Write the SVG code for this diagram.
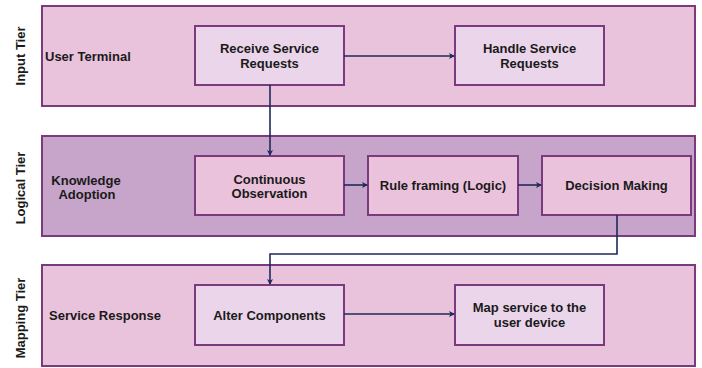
<svg xmlns="http://www.w3.org/2000/svg" width="702" height="368" viewBox="0 0 702 368">
<defs>
<marker id="ah" markerWidth="6" markerHeight="6" refX="5" refY="3" orient="auto" markerUnits="userSpaceOnUse">
<path d="M0,0 L6,3 L0,6 L1.5,3 Z" fill="#1e2a5a"/>
</marker>
<style>
.tier{stroke:#7b3a7e;stroke-width:2}
.t1{fill:#e9c2dc}
.t2{fill:#c7a4c9}
.b1{fill:#ebd5ea;stroke:#7b3a7e;stroke-width:2}
.b2{fill:#ebc2dc;stroke:#7b3a7e;stroke-width:2}
text{font-family:"Liberation Sans",Arial,sans-serif;font-weight:bold;font-size:13px;fill:#1a1a1a}
.c{text-anchor:middle}
.side{text-anchor:middle}
.conn{fill:none;stroke:#1e2a5a;stroke-width:1.6}
</style>
</defs>
<g id="tier-input">
<rect class="tier t1" x="42" y="6" width="653" height="100"/>
<text class="side" transform="translate(25,56) rotate(-90)">Input Tier</text>
<text x="45" y="61">User Terminal</text>
</g>
<g id="tier-logical">
<rect class="tier t2" x="42" y="136" width="653" height="100"/>
<text class="side" transform="translate(25,188) rotate(-90)">Logical Tier</text>
<text x="86" y="185" class="c">Knowledge</text>
<text x="87" y="199" class="c">Adoption</text>
</g>
<g id="tier-mapping">
<rect class="tier t1" x="42" y="265" width="653" height="101"/>
<text class="side" transform="translate(25,318) rotate(-90)">Mapping Tier</text>
<text x="49" y="320">Service Response</text>
</g>
<g id="receive">
<rect class="b1" x="195" y="26" width="149" height="59"/>
<text class="c" x="269.5" y="53">Receive Service</text>
<text class="c" x="269.5" y="68">Requests</text>
</g>
<g id="handle">
<rect class="b1" x="455" y="26" width="149" height="59"/>
<text class="c" x="529.5" y="53">Handle Service</text>
<text class="c" x="529.5" y="68">Requests</text>
</g>
<g id="observation">
<rect class="b2" x="195" y="156" width="149" height="59"/>
<text class="c" x="269.5" y="184">Continuous</text>
<text class="c" x="269.5" y="198">Observation</text>
</g>
<g id="rule">
<rect class="b2" x="368" y="156" width="150" height="59"/>
<text class="c" x="443" y="190">Rule framing (Logic)</text>
</g>
<g id="decision">
<rect class="b2" x="542" y="156" width="149" height="59"/>
<text class="c" x="616.5" y="190">Decision Making</text>
</g>
<g id="alter">
<rect class="b1" x="195" y="285" width="149" height="60"/>
<text class="c" x="269.5" y="320">Alter Components</text>
</g>
<g id="map">
<rect class="b1" x="455" y="285" width="149" height="60"/>
<text class="c" x="529.5" y="312">Map service to the</text>
<text class="c" x="529.5" y="327">user device</text>
</g>
<g id="connectors">
<path class="conn" d="M344,56 H454" marker-end="url(#ah)"/>
<path class="conn" d="M270,85 V155" marker-end="url(#ah)"/>
<path class="conn" d="M344,185 H367" marker-end="url(#ah)"/>
<path class="conn" d="M518,185 H541" marker-end="url(#ah)"/>
<path class="conn" d="M617,215 V254 H270 V284" marker-end="url(#ah)"/>
<path class="conn" d="M344,314 H454" marker-end="url(#ah)"/>
</g>
</svg>
